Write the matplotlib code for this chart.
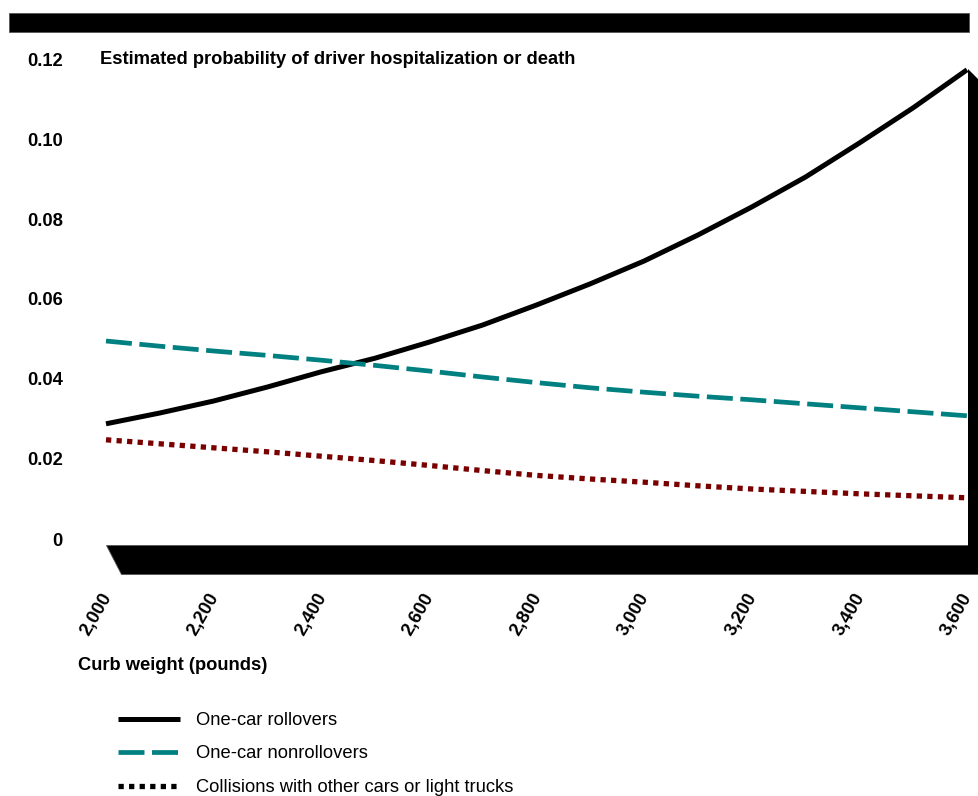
import matplotlib
matplotlib.use("Agg")
import matplotlib.pyplot as plt
from matplotlib.patches import Polygon, Rectangle
from matplotlib.transforms import ScaledTranslation

# ---------------- data ----------------
weights = [2000, 2100, 2200, 2300, 2400, 2500, 2600, 2700, 2800,
           2900, 3000, 3100, 3200, 3300, 3400, 3500, 3600]
rollovers = [0.0288, 0.0315, 0.0345, 0.0380, 0.0418, 0.0452, 0.0492, 0.0535, 0.0585,
             0.0638, 0.0695, 0.0760, 0.0830, 0.0905, 0.0990, 0.1078, 0.1173]
nonrollovers = [0.0495, 0.0482, 0.0470, 0.0459, 0.0447, 0.0434, 0.0420, 0.0405, 0.0391,
                0.0378, 0.0367, 0.0357, 0.0348, 0.0338, 0.0328, 0.0318, 0.0308]
collisions = [0.0248, 0.0238, 0.0228, 0.0218, 0.0207, 0.0196, 0.0184, 0.0171, 0.0159,
              0.0150, 0.0142, 0.0133, 0.0125, 0.0119, 0.0113, 0.0108, 0.0103]

series_labels = ["One-car rollovers", "One-car nonrollovers",
                 "Collisions with other cars or light trucks"]
y_ticks = [0, 0.02, 0.04, 0.06, 0.08, 0.10, 0.12]
y_tick_labels = ["0", "0.02", "0.04", "0.06", "0.08", "0.10", "0.12"]
x_ticks = [2000, 2200, 2400, 2600, 2800, 3000, 3200, 3400, 3600]
x_tick_labels = ["2,000", "2,200", "2,400", "2,600", "2,800", "3,000", "3,200", "3,400", "3,600"]
title = "Estimated probability of driver hospitalization or death"
xlabel = "Curb weight (pounds)"

# ---------------- layout ----------------
W, H = 979, 796
plt.rcParams['font.family'] = ['Liberation Sans', 'DejaVu Sans']
FS = 13.2

fig = plt.figure(figsize=(W / 100, H / 100), dpi=100)


def fx(px):
    return px / W


def fy(py):
    return 1 - py / H


ax = fig.add_axes([fx(106), fy(539), fx(967) - fx(106), fy(59) - fy(539)])
ax.set_xlim(2000, 3600)
ax.set_ylim(0, 0.12)
for s in ax.spines.values():
    s.set_visible(False)
ax.patch.set_alpha(0)

# decorations: top bar, floor, right wall
fig.patches.append(Rectangle((fx(9), fy(32)), fx(969) - fx(9), fy(13) - fy(32),
                             transform=fig.transFigure, facecolor='black',
                             edgecolor='#555555', linewidth=0.6, zorder=0))
floor_px = [(106, 545), (995, 545), (995, 574), (121, 574)]
fig.patches.append(Polygon([(fx(a), fy(b)) for a, b in floor_px], closed=True,
                           transform=fig.transFigure, facecolor='black',
                           edgecolor='#555555', linewidth=0.6, zorder=0))
wall_px = [(968, 69), (995, 96), (995, 574), (968, 574)]
fig.patches.append(Polygon([(fx(a), fy(b)) for a, b in wall_px], closed=True,
                           transform=fig.transFigure, facecolor='black',
                           edgecolor='none', zorder=0))

# lines
l1, = ax.plot(weights, rollovers, color='black', lw=3.6, solid_joinstyle='round',
              solid_capstyle='butt', clip_on=False, label=series_labels[0], zorder=3)
l2, = ax.plot(weights, nonrollovers, color='#008080', lw=3.4, clip_on=False,
              dash_capstyle='butt', label=series_labels[1], zorder=3)
l2.set_dashes((5.5, 1.6))
l3, = ax.plot(weights, collisions, color='#7a0000', lw=3.8, clip_on=False,
              dash_capstyle='butt', label=series_labels[2], zorder=3)
l3.set_dashes((1.0, 1.0))

# ticks
ax.set_yticks(y_ticks)
ax.set_yticklabels(y_tick_labels, fontsize=FS, fontweight='bold')
ax.set_xticks(x_ticks)
ax.set_xticklabels(x_tick_labels, fontsize=FS, fontweight='bold', rotation=60,
                   ha='center', va='top')
ax.tick_params(axis='both', length=0)
ax.tick_params(axis='y', pad=31)
ax.tick_params(axis='x', pad=37)
off = ScaledTranslation(-10 / 100, 0, fig.dpi_scale_trans)
for lab in ax.get_xticklabels():
    lab.set_transform(lab.get_transform() + off)

# title and x label
fig.text(fx(100), fy(60), title, fontsize=FS, fontweight='bold', ha='left', va='center')
fig.text(fx(78), fy(666), xlabel, fontsize=FS, fontweight='bold', ha='left', va='center')

# legend
leg = fig.legend(handles=[l1, l2, l3], labels=series_labels, loc='upper left',
                 bbox_to_anchor=(fx(118), fy(712)), frameon=False, fontsize=FS,
                 handlelength=3.4, handletextpad=0.85, labelspacing=0.9,
                 borderpad=0, borderaxespad=0)
leg.legend_handles[2].set_color('black')

fig.savefig("out.png", dpi=100)
